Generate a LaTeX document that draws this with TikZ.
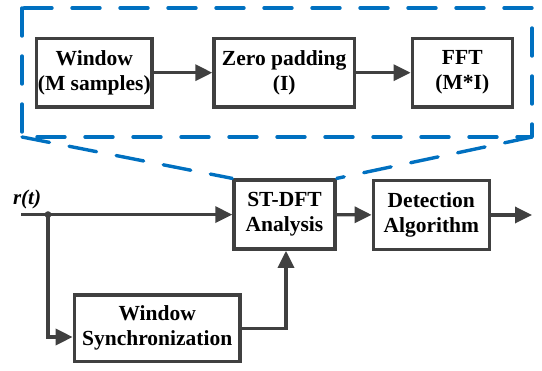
\documentclass[tikz,border=0pt]{standalone}
\usepackage{fontspec}
\setmainfont{Liberation Serif}
\usetikzlibrary{arrows.meta}
\definecolor{boxgray}{HTML}{404040}
\definecolor{zoomblue}{HTML}{0070C0}
\tikzset{
  blk/.style={draw=boxgray, line width=3.4pt, fill=white, align=center, inner sep=0pt,
              font=\fontsize{21.5}{25}\selectfont\bfseries, text=black},
  flow/.style={draw=boxgray, line width=3.4pt, -{Triangle[length=17pt,width=16pt]}},
  wire/.style={draw=boxgray, line width=3.4pt},
  zoomline/.style={draw=zoomblue, line width=3.4pt, line cap=round, line join=round,
                   dash pattern=on 28pt off 20pt}
}
\begin{document}
\begin{tikzpicture}[x=1pt,y=-1pt]
  \useasboundingbox (0,0) rectangle (542,371);

  % expanded view of the ST-DFT stage
  \node[blk, minimum width=115.4pt, minimum height=68.7pt] (win) at (94.3,72.7) {Window\\(M samples)};
  \node[blk, minimum width=140.4pt, minimum height=68.7pt] (zp)  at (284.2,72.7) {Zero padding\\(I)};
  \node[blk, minimum width=100pt,   minimum height=68.7pt] (fft) at (462.3,72.7) {FFT\\(M*I)};

  % main signal chain
  \node[blk, minimum width=101pt,   minimum height=69pt]   (stdft) at (284.5,214.6) {ST-DFT\\Analysis};
  \node[blk, minimum width=116pt,   minimum height=69pt]   (det)   at (431.3,215) {Detection\\Algorithm};
  \node[blk, minimum width=165.7pt, minimum height=66.7pt] (sync)  at (157.2,328.3) {Window\\Synchronization};

  % zoom frame and its connection to the ST-DFT block
  \coordinate (zl) at (22,137);
  \coordinate (zr) at (532,137);
  \draw[zoomline] (22,8) rectangle (532,137);
  \draw[zoomline] (zl) -- (stdft.north west);
  \draw[zoomline] (zr) -- (stdft.north east);

  \draw[flow] (win) -- (zp);
  \draw[flow] (zp) -- (fft);

  % input and branch point
  \coordinate (in) at (21,214.6);
  \coordinate (br) at (48,214.6);
  \coordinate (out) at (532,215);
  \node[font=\fontsize{21}{25}\selectfont\bfseries\itshape, inner sep=0pt] (rt) at (27,199) {r(t)};

  \draw[flow] (in) -- (stdft.west |- in);
  \draw[flow] (br) |- ([yshift=-8.7pt]sync.west);
  \fill[boxgray] (br) circle (3.4pt);
  \draw[wire] (sync.east) -| (286,262);
  \draw[flow] (286,300) -- (286,250.6 |- stdft.south);
  \draw[flow] (stdft) -- (det);
  \draw[flow] (det.east) -- (out);
\end{tikzpicture}
\end{document}
